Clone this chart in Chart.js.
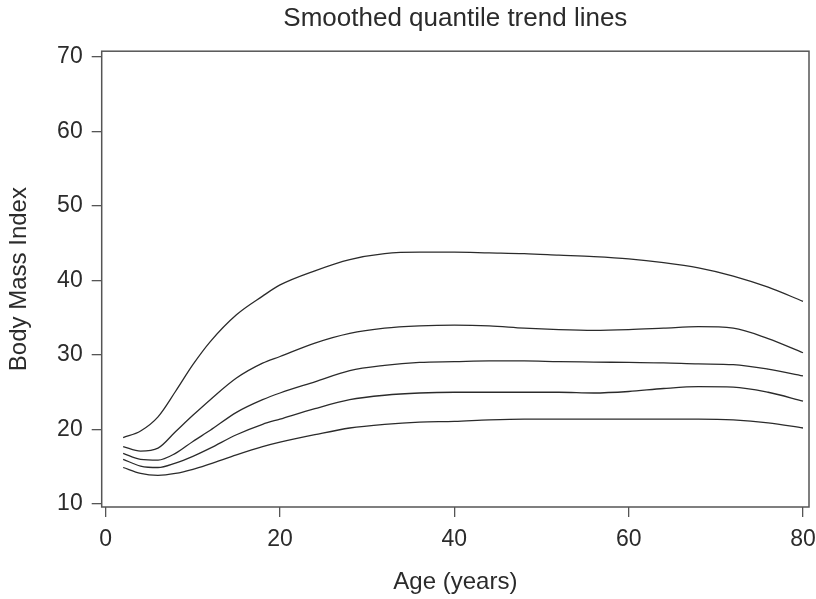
<!DOCTYPE html>
<html lang="en">
    <head>
        <meta charset="UTF-8" />
        <title>Smoothed quantile trend lines</title>
        <script src="https://cdn.jsdelivr.net/npm/chart.js"></script>
        <style>
            body { margin: 0; background: #fff; }
        </style>
    </head>
    <body>
        <canvas id="bmiChart" width="816" height="599"></canvas>
        <script>
            // ages, one value per curve per age
            const ages = [2, 4, 6, 8, 10, 12, 15, 18, 20, 24, 28, 32, 36, 40, 44, 48, 52, 56, 60, 64, 68, 72, 76, 80];
            const q95 = [18.9, 19.8, 21.7, 25.1, 28.7, 31.8, 35.4, 37.9, 39.4, 41.3, 42.8, 43.6, 43.8, 43.8, 43.7, 43.6, 43.4, 43.2, 42.9, 42.4, 41.7, 40.6, 39.1, 37.2];
            const q75 = [17.7, 17.1, 17.5, 19.7, 21.9, 24.0, 26.9, 28.9, 29.8, 31.6, 32.9, 33.6, 33.9, 34.0, 33.9, 33.6, 33.4, 33.3, 33.4, 33.6, 33.8, 33.6, 32.2, 30.3];
            const q50 = [16.8, 16.0, 15.9, 16.8, 18.4, 19.9, 22.3, 24.0, 24.9, 26.4, 27.9, 28.6, 29.0, 29.1, 29.2, 29.2, 29.1, 29.05, 29.0, 28.95, 28.8, 28.7, 28.1, 27.2];
            const q25 = [16.0, 15.1, 14.9, 15.5, 16.4, 17.5, 19.3, 20.7, 21.4, 22.8, 24.0, 24.6, 24.9, 25.0, 25.0, 25.0, 25.0, 24.9, 25.1, 25.5, 25.75, 25.7, 25.0, 23.8];
            const q05 = [14.9, 14.1, 13.85, 14.1, 14.65, 15.4, 16.6, 17.7, 18.3, 19.3, 20.2, 20.7, 21.0, 21.1, 21.3, 21.4, 21.4, 21.4, 21.4, 21.4, 21.4, 21.3, 20.9, 20.2];
            const xTicks = [0, 20, 40, 60, 80];
            const yTicks = [10, 20, 30, 40, 50, 60, 70];

            const ink = "#2b2b2b";
            const frameColor = "#555";
            const fontFamily = "'Liberation Sans', Arial, Helvetica, sans-serif";

            function curve(values) {
                return {
                    data: ages.map((a, i) => ({ x: a, y: values[i] })),
                    borderColor: ink,
                    borderWidth: 1.3,
                    pointRadius: 0,
                    fill: false,
                    cubicInterpolationMode: "monotone",
                };
            }

            // box around the plot area
            const framePlugin = {
                id: "frame",
                afterDraw(chart) {
                    const { ctx, chartArea: a } = chart;
                    ctx.save();
                    ctx.strokeStyle = frameColor;
                    ctx.lineWidth = 1.5;
                    ctx.strokeRect(a.left, a.top, a.right - a.left, a.bottom - a.top);
                    ctx.restore();
                },
            };

            const ctx = document.getElementById("bmiChart").getContext("2d");
            new Chart(ctx, {
                type: "line",
                data: {
                    datasets: [curve(q95), curve(q75), curve(q50), curve(q25), curve(q05)],
                },
                plugins: [framePlugin],
                options: {
                    responsive: false,
                    animation: false,
                    layout: { padding: { left: 0, right: 7, top: 0, bottom: 0 } },
                    plugins: {
                        legend: { display: false },
                        tooltip: { enabled: false },
                        title: {
                            display: true,
                            fullSize: false,
                            text: "Smoothed quantile trend lines",
                            color: ink,
                            font: { family: fontFamily, size: 26, weight: "normal", lineHeight: 1.2 },
                            padding: { top: 3, bottom: 17 },
                        },
                    },
                    scales: {
                        x: {
                            type: "linear",
                            min: -0.46,
                            max: 80.69,
                            afterBuildTicks: (scale) => {
                                scale.ticks = xTicks.map((v) => ({ value: v }));
                            },
                            afterFit: (scale) => {
                                scale.height = 92;
                                scale.paddingLeft = 0;
                                scale.paddingRight = 0;
                            },
                            border: { display: false },
                            grid: {
                                drawOnChartArea: false,
                                drawTicks: true,
                                tickLength: 10,
                                color: frameColor,
                                lineWidth: 1.3,
                            },
                            ticks: {
                                color: ink,
                                padding: 9,
                                maxRotation: 0,
                                font: { family: fontFamily, size: 23 },
                            },
                            title: {
                                display: true,
                                text: "Age (years)",
                                color: ink,
                                font: { family: fontFamily, size: 24 },
                                padding: { top: 0, bottom: 2 },
                            },
                        },
                        y: {
                            type: "linear",
                            min: 9.6,
                            max: 70.77,
                            afterBuildTicks: (scale) => {
                                scale.ticks = yTicks.map((v) => ({ value: v }));
                            },
                            afterFit: (scale) => {
                                scale.width = 101.7;
                                scale.paddingTop = 0;
                                scale.paddingBottom = 0;
                            },
                            border: { display: false },
                            grid: {
                                drawOnChartArea: false,
                                drawTicks: true,
                                tickLength: 10,
                                color: frameColor,
                                lineWidth: 1.3,
                            },
                            ticks: {
                                color: ink,
                                padding: 9,
                                font: { family: fontFamily, size: 23 },
                            },
                            title: {
                                display: true,
                                text: "Body Mass Index",
                                color: ink,
                                font: { family: fontFamily, size: 24 },
                                padding: { top: 5, bottom: 0 },
                            },
                        },
                    },
                },
            });
        </script>
    </body>
</html>
